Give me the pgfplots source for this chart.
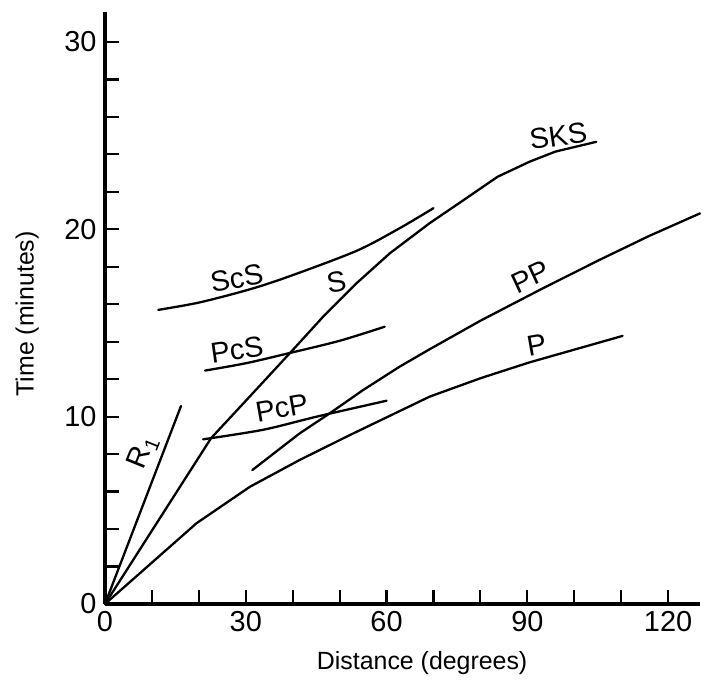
\documentclass[border=0pt]{standalone}
\usepackage{pgfplots}
\pgfplotsset{compat=1.18}
\usepackage{fontspec}
\setmainfont{Liberation Sans}
\tikzset{curve/.style={black, solid, line width=2.3bp, line join=round, line cap=round, mark=none}}
\begin{document}
\begin{tikzpicture}
\begin{axis}[
  scale only axis, width=595bp, height=592bp,
  xmin=0, xmax=126.8, ymin=0, ymax=31.6,
  axis lines*=left,
  axis line style={line width=3.5bp, black},
  xtick={0,10,...,120}, xticklabels={0,,,30,,,60,,,90,,,120},
  ytick={0,2,...,30}, yticklabels={0,,,,,10,,,,,20,,,,,30},
  tick align=inside, major tick length=14bp,
  tick style={line width=2.2bp, black},
  /pgf/number format/assume math mode=true,
  tick label style={font=\fontsize{29}{32}\selectfont},
  xticklabel style={yshift=-4bp},
  yticklabel style={xshift=-5bp},
  xlabel={Distance (degrees)}, ylabel={Time (minutes)},
  label style={font=\fontsize{25}{28}\selectfont},
  xlabel style={at={(axis description cs:0.533,-0.0997)}, anchor=center},
  ylabel style={at={(axis description cs:-0.131,0.49)}, anchor=center},
  clip=false,
]
% R1
\addplot[curve] coordinates {(0,0) (16.2,10.57)};
% S and SKS
\addplot[curve] coordinates {(0,0) (22.6,8.85) (30.2,10.9) (39.4,13.39) (46.5,15.34) (53.6,17.12) (60.7,18.72) (69.2,20.33) (74.9,21.3) (83.7,22.81) (90.5,23.61) (96,24.15) (104.7,24.67)};
% P
\addplot[curve] coordinates {(0,0) (19.5,4.31) (30.9,6.26) (41.5,7.69) (52.2,9.02) (69.2,11.07) (80,12.05) (90.5,12.9) (110.3,14.31)};
% PP
\addplot[curve] coordinates {(31.4,7.15) (41.5,9.11) (47.9,10.18) (55,11.42) (62.8,12.67) (69.2,13.6) (80,15.12) (93.3,16.85) (105.4,18.37) (116,19.65) (126.8,20.85)};
% PcP
\addplot[curve, smooth] coordinates {(20.9,8.79) (33.7,9.3) (45.1,10.0) (60,10.85)};
% PcS
\addplot[curve, smooth] coordinates {(21.3,12.46) (30,12.85) (39.4,13.4) (50,14.05) (59.6,14.8)};
% ScS
\addplot[curve, smooth] coordinates {(11.35,15.7) (20.2,16.1) (30.9,16.8) (39.4,17.5) (53.6,18.85) (62.8,20.06) (70,21.13)};
% labels
\begin{scope}[every node/.style={font=\fontsize{29}{32}\selectfont, inner sep=0pt}]
\node[rotate=68] at (axis cs:8.1,8.1) {R\textsubscript{1}};
\node[rotate=10] at (axis cs:28.1,17.4) {ScS};
\node[rotate=10] at (axis cs:49.3,17.2) {S};
\node[rotate=8] at (axis cs:28.1,13.56) {PcS};
\node[rotate=10] at (axis cs:37.7,10.46) {PcP};
\node[rotate=8] at (axis cs:96.6,24.99) {SKS};
\node[rotate=25] at (axis cs:90.7,17.46) {PP};
\node[rotate=10] at (axis cs:92,13.8) {P};
\end{scope}
\end{axis}
\pgfresetboundingbox
\path (-105bp,-84bp) rectangle (598bp,604bp);
\end{tikzpicture}
\end{document}
